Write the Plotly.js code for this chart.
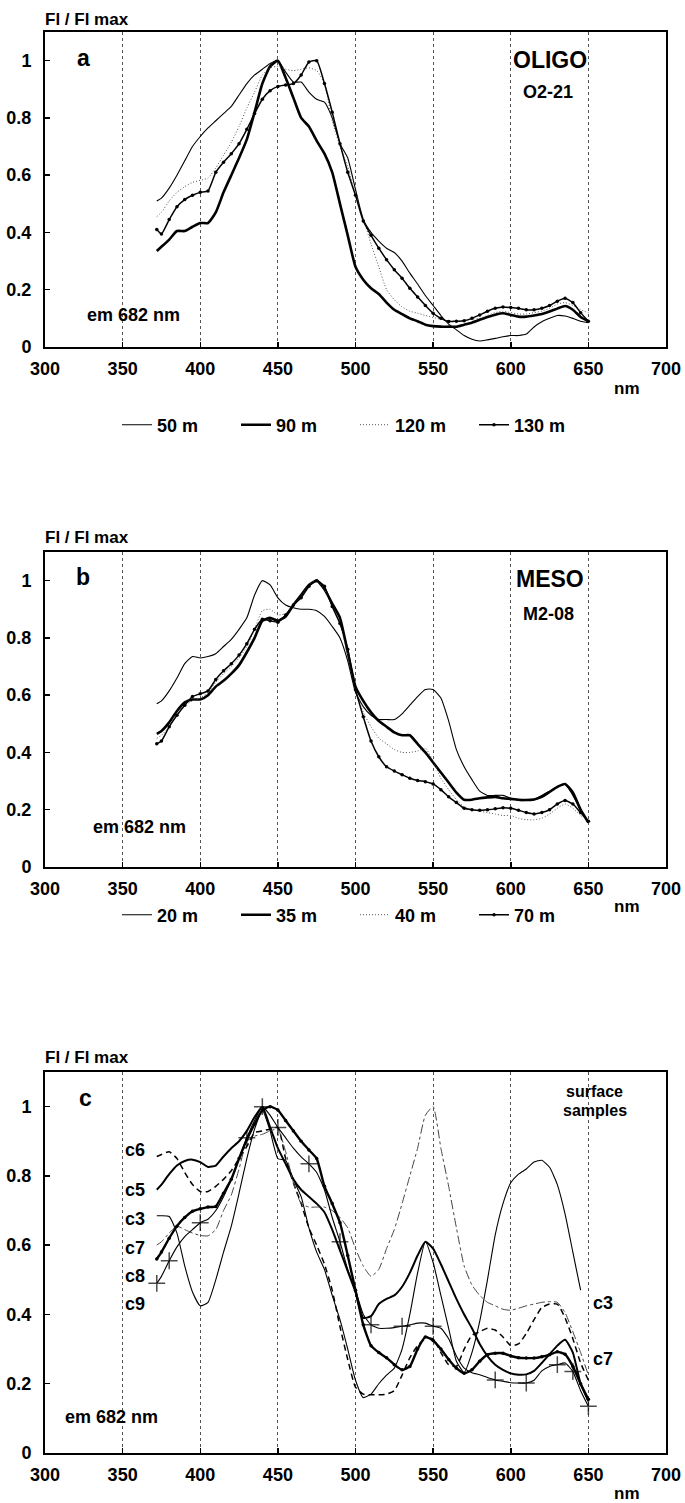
<!DOCTYPE html>
<html>
<head>
<meta charset="utf-8">
<script src="https://cdn.plot.ly/plotly-3.0.1.min.js"></script>
<style>
  html, body { margin: 0; padding: 0; background: #fff; }
  #chart { width: 685px; height: 1503px; }
</style>
</head>
<body>
<div id="chart"></div>
<script>
// ---------- data ----------
const wl = [372,375,380,385,390,395,400,405,410,415,420,425,430,435,440,445,450,455,460,465,
            470,475,480,485,490,495,500,505,510,515,520,525,530,535,540,545,550,555,560,565,
            570,575,580,585,590,595,600,605,610,615,620,625,630,635,640,645,650];
const xTicks = [300,350,400,450,500,550,600,650,700];
const yTicks = [0,0.2,0.4,0.6,0.8,1];

// panel a : OLIGO O2-21
const a50 = [0.51,0.52,0.555,0.60,0.65,0.70,0.735,0.765,0.79,0.815, 0.84,0.88,0.92,0.95,0.97,0.99,1.0,0.96,0.925,0.925,
             0.89,0.865,0.855,0.80,0.71,0.66,0.55,0.445,0.40,0.37, 0.345,0.33,0.30,0.258,0.22,0.18,0.145,0.11,0.08,0.06,
             0.04,0.027,0.021,0.025,0.03,0.036,0.04,0.04,0.045,0.07, 0.088,0.10,0.11,0.108,0.10,0.09,0.085];
const a90 = [0.335,0.35,0.375,0.405,0.405,0.42,0.433,0.433,0.47,0.54, 0.60,0.66,0.725,0.82,0.92,0.98,1.0,0.94,0.87,0.80,
             0.77,0.72,0.675,0.61,0.50,0.39,0.28,0.235,0.205,0.185, 0.155,0.13,0.115,0.10,0.09,0.078,0.073,0.071,0.071,0.071,
             0.078,0.085,0.095,0.105,0.113,0.118,0.112,0.106,0.106,0.11, 0.115,0.124,0.134,0.143,0.13,0.105,0.09];
const a120 = [0.455,0.47,0.51,0.54,0.56,0.575,0.582,0.59,0.625,0.67, 0.715,0.77,0.835,0.89,0.95,0.975,0.98,0.97,0.965,0.97,
              0.975,0.965,0.92,0.79,0.70,0.63,0.53,0.45,0.36,0.28, 0.20,0.165,0.14,0.125,0.118,0.11,0.103,0.097,0.092,0.09,
              0.092,0.097,0.10,0.11,0.12,0.125,0.12,0.115,0.115,0.12, 0.125,0.135,0.15,0.155,0.145,0.13,0.12];
const a130 = [0.41,0.395,0.445,0.49,0.515,0.53,0.54,0.545,0.61,0.645, 0.675,0.71,0.76,0.815,0.865,0.895,0.91,0.915,0.92,0.95,
              0.995,1.0,0.92,0.82,0.71,0.61,0.53,0.44,0.39,0.345, 0.305,0.27,0.24,0.205,0.175,0.145,0.118,0.10,0.089,0.09,
              0.092,0.10,0.112,0.125,0.135,0.14,0.138,0.135,0.13,0.13, 0.135,0.145,0.16,0.17,0.155,0.12,0.09];

// panel b : MESO M2-08
const b20 = [0.57,0.58,0.615,0.66,0.71,0.735,0.73,0.735,0.745,0.77, 0.795,0.83,0.87,0.95,1.0,0.985,0.94,0.915,0.905,0.90,
             0.90,0.895,0.875,0.84,0.80,0.72,0.61,0.56,0.53,0.515, 0.515,0.515,0.535,0.565,0.595,0.62,0.62,0.59,0.51,0.41,
             0.35,0.305,0.265,0.25,0.25,0.25,0.24,0.232,0.232,0.235, 0.25,0.265,0.28,0.29,0.25,0.20,0.155];
const b35 = [0.465,0.475,0.505,0.545,0.575,0.585,0.585,0.60,0.63,0.65, 0.675,0.705,0.75,0.80,0.86,0.87,0.86,0.875,0.915,0.95,
             0.985,1.0,0.97,0.92,0.87,0.75,0.63,0.58,0.54,0.51, 0.49,0.47,0.46,0.46,0.43,0.40,0.365,0.33,0.295,0.26,
             0.235,0.235,0.24,0.243,0.245,0.24,0.238,0.235,0.234,0.236, 0.245,0.262,0.28,0.29,0.26,0.20,0.155];
const b40 = [0.45,0.46,0.49,0.53,0.565,0.58,0.59,0.61,0.645,0.675, 0.70,0.73,0.77,0.83,0.895,0.90,0.88,0.885,0.915,0.945,
             0.985,1.0,0.97,0.91,0.85,0.74,0.62,0.54,0.49,0.45, 0.43,0.41,0.40,0.40,0.405,0.415,0.37,0.31,0.27,0.235,
             0.21,0.20,0.195,0.19,0.185,0.18,0.18,0.17,0.165,0.165, 0.17,0.185,0.205,0.22,0.205,0.18,0.16];
const b70 = [0.43,0.44,0.49,0.53,0.565,0.595,0.605,0.615,0.655,0.685, 0.71,0.74,0.78,0.83,0.865,0.86,0.855,0.88,0.915,0.94,
             0.98,1.0,0.98,0.91,0.85,0.76,0.62,0.525,0.44,0.385, 0.35,0.335,0.322,0.31,0.302,0.298,0.29,0.27,0.245,0.225,
             0.205,0.20,0.198,0.20,0.203,0.207,0.205,0.198,0.19,0.185, 0.19,0.20,0.22,0.232,0.22,0.19,0.16];

// panel c : surface samples
const c3 = [0.685,0.685,0.683,0.635,0.54,0.465,0.425,0.435,0.50,0.58, 0.655,0.75,0.85,0.935,0.99,0.93,0.85,0.845,0.79,0.74,
            0.65,0.58,0.53,0.455,0.385,0.30,0.21,0.16,0.17,0.20, 0.225,0.245,0.30,0.40,0.52,0.61,0.55,0.455,0.36,0.265,
            0.232,0.29,0.38,0.50,0.63,0.72,0.78,0.805,0.82,0.84, 0.845,0.825,0.775,0.69,0.58,0.47,null];
const c5 = [0.76,0.775,0.805,0.83,0.843,0.847,0.84,0.826,0.83,0.856, 0.88,0.90,0.93,0.97,1.0,0.94,0.88,0.835,0.79,0.76,
            0.74,0.72,0.695,0.645,0.585,0.525,0.465,0.39,0.395,0.43, 0.445,0.455,0.48,0.52,0.57,0.61,0.59,0.545,0.495,0.445,
            0.40,0.36,0.315,0.28,0.255,0.24,0.23,0.226,0.227,0.237, 0.26,0.285,0.31,0.327,0.29,0.20,0.15];
const c6 = [0.856,0.862,0.87,0.85,0.81,0.775,0.755,0.755,0.77,0.79, 0.815,0.85,0.885,0.925,0.93,0.935,0.94,0.85,0.78,0.72,
            0.65,0.60,0.545,0.47,0.365,0.27,0.19,0.17,0.168,0.168, 0.17,0.18,0.225,0.275,0.31,0.33,0.33,0.29,0.255,0.25,
            0.30,0.34,0.35,0.36,0.355,0.335,0.31,0.315,0.345,0.385, 0.42,0.43,0.43,0.39,0.33,0.26,0.21];
const c7 = [0.60,0.61,0.635,0.655,0.645,0.635,0.628,0.627,0.645,0.70, 0.745,0.82,0.90,0.915,0.92,0.93,0.935,0.87,0.78,0.72,
            0.71,0.71,0.71,0.70,0.68,0.65,0.59,0.54,0.51,0.53, 0.59,0.645,0.72,0.80,0.88,0.975,1.0,0.88,0.77,0.65,
            0.54,0.485,0.455,0.435,0.425,0.415,0.412,0.418,0.425,0.43, 0.435,0.437,0.435,0.405,0.35,0.29,0.225];
const c8 = [0.56,0.58,0.62,0.655,0.68,0.698,0.705,0.71,0.712,0.75, 0.79,0.85,0.905,0.95,0.99,1.0,0.99,0.96,0.93,0.90,
            0.875,0.85,0.77,0.72,0.665,0.57,0.47,0.37,0.31,0.29, 0.275,0.255,0.24,0.25,0.30,0.335,0.325,0.30,0.27,0.245,
            0.23,0.24,0.265,0.284,0.288,0.288,0.28,0.275,0.274,0.274, 0.278,0.284,0.292,0.285,0.25,0.20,0.155];
const c9 = [0.49,0.51,0.555,0.595,0.625,0.645,0.665,0.675,0.70,0.74, 0.79,0.85,0.91,0.96,1.0,0.975,0.94,0.91,0.88,0.855,
            0.835,0.81,0.76,0.68,0.61,0.53,0.47,0.40,0.37,0.36, 0.36,0.362,0.366,0.37,0.375,0.375,0.366,0.36,0.33,0.28,
            0.245,0.232,0.226,0.218,0.211,0.207,0.203,0.202,0.202,0.21, 0.237,0.25,0.255,0.26,0.235,0.18,0.135];
const c9Marks = [372,380,400,430,440,450,470,490,510,530,550,590,610,630,640,650];

// ---------- layout helpers ----------
const H = 1503;
const FONT = 'Liberation Sans, Arial, Helvetica, sans-serif';
const pY = p => 1 - p / H;               // pixel row -> paper y
const pX = p => (p - 45) / 621;          // pixel column -> paper x

const sp = {shape: 'spline', smoothing: 0.5};
function thin(x, y, xa, ya, name, lg)   { return {x, y, xaxis: xa, yaxis: ya, name, legend: lg, mode: 'lines', line: {color: '#000', width: 1.1, ...sp}}; }
function thick(x, y, xa, ya, name, lg)  { return {x, y, xaxis: xa, yaxis: ya, name, legend: lg, mode: 'lines', line: {color: '#000', width: 2.6, ...sp}}; }
function dotted(x, y, xa, ya, name, lg) { return {x, y, xaxis: xa, yaxis: ya, name, legend: lg, mode: 'lines', line: {color: '#555', width: 1, dash: '1px,2px', ...sp}}; }
function dots(x, y, xa, ya, name, lg)   { return {x, y, xaxis: xa, yaxis: ya, name, legend: lg, mode: 'lines+markers', line: {color: '#000', width: 1.5, ...sp}, marker: {color: '#000', size: 3.5}}; }

const traces = [
  thin(wl, a50, 'x', 'y', '50 m', 'legend'),
  thick(wl, a90, 'x', 'y', '90 m', 'legend'),
  dotted(wl, a120, 'x', 'y', '120 m', 'legend'),
  dots(wl, a130, 'x', 'y', '130 m', 'legend'),

  thin(wl, b20, 'x2', 'y2', '20 m', 'legend2'),
  thick(wl, b35, 'x2', 'y2', '35 m', 'legend2'),
  dotted(wl, b40, 'x2', 'y2', '40 m', 'legend2'),
  dots(wl, b70, 'x2', 'y2', '70 m', 'legend2'),

  {x: wl, y: c3, xaxis: 'x3', yaxis: 'y3', name: 'c3', showlegend: false, mode: 'lines', line: {color: '#000', width: 1.1, ...sp}},
  {x: wl, y: c5, xaxis: 'x3', yaxis: 'y3', name: 'c5', showlegend: false, mode: 'lines', line: {color: '#000', width: 2, ...sp}},
  {x: wl, y: c6, xaxis: 'x3', yaxis: 'y3', name: 'c6', showlegend: false, mode: 'lines', line: {color: '#000', width: 1.5, dash: '6px,4px', ...sp}},
  {x: wl, y: c7, xaxis: 'x3', yaxis: 'y3', name: 'c7', showlegend: false, mode: 'lines', line: {color: '#444', width: 1, dash: 'dashdot', ...sp}},
  {x: wl, y: c8, xaxis: 'x3', yaxis: 'y3', name: 'c8', showlegend: false, mode: 'lines+markers', line: {color: '#000', width: 2.4, ...sp}, marker: {color: '#000', size: 3.5}},
  {x: wl, y: c9, xaxis: 'x3', yaxis: 'y3', name: 'c9', showlegend: false, mode: 'lines+markers', line: {color: '#000', width: 1.1, ...sp},
   marker: {symbol: 'cross-thin', color: '#000', size: wl.map(w => c9Marks.includes(w) ? 12 : 0), line: {color: '#000', width: 1.5}}}
];

function xAxis(anchor) {
  return {anchor, domain: [0, 1], range: [300, 700], tickmode: 'array', tickvals: xTicks,
    ticks: 'inside', ticklen: 5, tickwidth: 1.5, tickcolor: '#000',
    showline: true, mirror: true, linecolor: '#000', linewidth: 2,
    showgrid: true, gridcolor: '#555', griddash: 'dot', gridwidth: 1,
    zeroline: false, ticklabelstandoff: 4, tickfont: {size: 18}, fixedrange: true};
}
function yAxis(anchor, dom) {
  return {anchor, domain: dom, range: [0, 1.1], tickmode: 'array', tickvals: yTicks,
    ticks: 'inside', ticklen: 5, tickwidth: 1.5, tickcolor: '#000',
    showline: true, mirror: true, linecolor: '#000', linewidth: 2,
    showgrid: false, zeroline: false, ticklabelstandoff: 8, tickfont: {size: 18}, fixedrange: true};
}

function ann(text, x, y, xref, yref, size, extra) {
  return Object.assign({text, x, y, xref, yref, xanchor: 'center', yanchor: 'middle', showarrow: false,
    font: {size, family: FONT, color: '#000', weight: 'bold'}}, extra || {});
}

const annotations = [
  // panel a
  ann('Fl / Fl max', pX(43), pY(19), 'paper', 'paper', 17, {xanchor: 'left'}),
  ann('a', 324.5, 1.01, 'x', 'y', 23),
  ann('OLIGO', 625, 1.003, 'x', 'y', 23),
  ann('O2-21', 624, 0.891, 'x', 'y', 18),
  ann('em 682 nm', 357, 0.112, 'x', 'y', 18),
  ann('nm', pX(627), pY(389), 'paper', 'paper', 17),
  // panel b
  ann('Fl / Fl max', pX(43), pY(537), 'paper', 'paper', 17, {xanchor: 'left'}),
  ann('b', 324.5, 1.012, 'x2', 'y2', 23),
  ann('MESO', 625, 1.005, 'x2', 'y2', 23),
  ann('M2-08', 624, 0.883, 'x2', 'y2', 18),
  ann('em 682 nm', 361, 0.14, 'x2', 'y2', 18),
  ann('nm', pX(627), pY(906), 'paper', 'paper', 17),
  // panel c
  ann('Fl / Fl max', pX(43), pY(1057), 'paper', 'paper', 17, {xanchor: 'left'}),
  ann('c', 325.8, 1.025, 'x3', 'y3', 23),
  ann('surface', 654, 1.043, 'x3', 'y3', 16),
  ann('samples', 654, 0.99, 'x3', 'y3', 16),
  ann('em 682 nm', 343, 0.105, 'x3', 'y3', 18),
  ann('nm', pX(627), pY(1493), 'paper', 'paper', 17),
  ann('c6', 358, 0.876, 'x3', 'y3', 18),
  ann('c5', 358, 0.76, 'x3', 'y3', 18),
  ann('c3', 358, 0.675, 'x3', 'y3', 18),
  ann('c7', 358, 0.592, 'x3', 'y3', 18),
  ann('c8', 358, 0.51, 'x3', 'y3', 18),
  ann('c9', 358, 0.43, 'x3', 'y3', 18),
  ann('c3', 659.5, 0.434, 'x3', 'y3', 18),
  ann('c7', 659.5, 0.27, 'x3', 'y3', 18)
];

const legendBase = {orientation: 'h', xanchor: 'left', yanchor: 'middle', bgcolor: 'rgba(0,0,0,0)', borderwidth: 0,
  entrywidth: 74, entrywidthmode: 'pixels', itemwidth: 30, font: {size: 18, family: FONT, color: '#000', weight: 'bold'}};

const layout = {
  width: 685, height: 1503,
  margin: {l: 45, r: 19, t: 0, b: 0},
  paper_bgcolor: '#fff', plot_bgcolor: '#fff',
  font: {family: FONT, size: 18, color: '#000', weight: 'bold'},
  xaxis: xAxis('y'),   yaxis: yAxis('x',  [pY(347), pY(32)]),
  xaxis2: xAxis('y2'), yaxis2: yAxis('x2', [pY(867), pY(552)]),
  xaxis3: xAxis('y3'), yaxis3: yAxis('x3', [pY(1453), pY(1072)]),
  legend:  Object.assign({}, legendBase, {x: pX(117), y: pY(425)}),
  legend2: Object.assign({}, legendBase, {x: pX(117), y: pY(915)}),
  annotations,
  showlegend: true
};

Plotly.newPlot('chart', traces, layout, {staticPlot: true, displayModeBar: false});
</script>
</body>
</html>
